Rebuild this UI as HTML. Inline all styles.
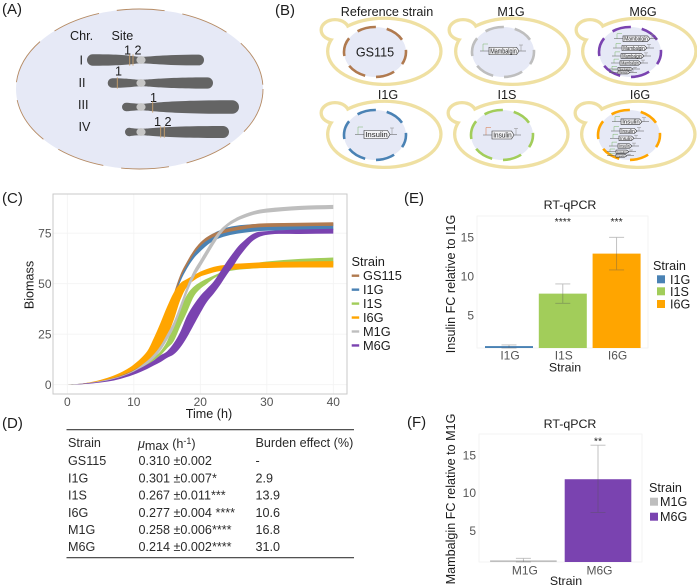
<!DOCTYPE html>
<html lang="en">
<head>
<meta charset="utf-8">
<title>Strain figure</title>
<style>
html,body{margin:0;padding:0;background:#fff;}
body{width:697px;height:586px;overflow:hidden;}
svg{display:block;font-family:"Liberation Sans",sans-serif;filter:blur(0.35px);}
svg text{fill:#1c1c1c;}
.tick{fill:#555 !important;font-size:12px;}
.lab{font-size:12.6px;}
.pl{font-size:15px;}
.td{font-size:12.6px;fill:#2a2a2a !important;}
</style>
</head>
<body>
<svg id="fig" xmlns="http://www.w3.org/2000/svg" width="697" height="586" viewBox="0 0 697 586">
  <rect width="697" height="586" fill="#fff"/>
  <text class="pl" x="2" y="14">(A)</text>
  <text class="pl" x="275" y="15">(B)</text>
  <text class="pl" x="2" y="203">(C)</text>
  <text class="pl" x="2" y="428">(D)</text>
  <text class="pl" x="404" y="203">(E)</text>
  <text class="pl" x="407" y="427">(F)</text>

  <g id="panelA">
    <ellipse cx="139.5" cy="89" rx="123.5" ry="80" fill="#e6e9f6"/>
    <ellipse cx="139.5" cy="89" rx="123.5" ry="80" fill="none" stroke="#b58a63" stroke-width="0.9" stroke-dasharray="48 18"/>
    <text class="lab" x="70" y="40">Chr.</text>
    <text class="lab" x="111.5" y="40">Site</text>
    <text class="lab" x="79.5" y="64.5">I</text>
    <text class="lab" x="78.5" y="87">II</text>
    <text class="lab" x="78" y="109">III</text>
    <text class="lab" x="78.5" y="131">IV</text>
    <text class="lab" x="124" y="54.5">1 2</text>
    <text class="lab" x="115" y="75.5">1</text>
    <text class="lab" x="150" y="102">1</text>
    <text class="lab" x="154" y="126">1 2</text>
  </g>

  <g id="panelB"></g>
  <g id="panelC"></g>

  <g id="panelD">
    <line x1="66.5" x2="354" y1="429.7" y2="429.7" stroke="#3a3a3a" stroke-width="1.2"/>
    <line x1="66.5" x2="354" y1="557.7" y2="557.7" stroke="#3a3a3a" stroke-width="1.2"/>
    <text class="td" x="68" y="447">Strain</text>
    <text class="td" x="138" y="448" font-style="italic" font-size="13">μ<tspan font-style="normal" dy="2">max</tspan><tspan font-style="normal" dy="-2"> (h</tspan><tspan font-style="normal" font-size="9" dy="-4">-1</tspan><tspan font-style="normal" dy="4">)</tspan></text>
    <text class="td" x="255.5" y="447">Burden effect (%)</text>
    <text class="td" x="68" y="465">GS115</text>
    <text class="td" x="138.5" y="465">0.310 ±0.002</text>
    <text class="td" x="255.5" y="465">-</text>
    <text class="td" x="68" y="482.3">I1G</text>
    <text class="td" x="138.5" y="482.3">0.301 ±0.007*</text>
    <text class="td" x="255.5" y="482.3">2.9</text>
    <text class="td" x="68" y="499.6">I1S</text>
    <text class="td" x="138.5" y="499.6">0.267 ±0.011***</text>
    <text class="td" x="255.5" y="499.6">13.9</text>
    <text class="td" x="68" y="516.8">I6G</text>
    <text class="td" x="138.5" y="516.8">0.277 ±0.004 ****</text>
    <text class="td" x="255.5" y="516.8">10.6</text>
    <text class="td" x="68" y="534">M1G</text>
    <text class="td" x="138.5" y="534">0.258 ±0.006****</text>
    <text class="td" x="255.5" y="534">16.8</text>
    <text class="td" x="68" y="551.2">M6G</text>
    <text class="td" x="138.5" y="551.2">0.214 ±0.002****</text>
    <text class="td" x="255.5" y="551.2">31.0</text>
  </g>

  <g id="panelE"></g>
  <g id="panelF"></g>
</svg>

<script>
// ---------- Panel C data ----------
const times = [0,2,4,6,8,10,12,13,14,15,16,17,18,19,20,21,22,23,24,25,26,28,30,35,40];
const strainNames = ['GS115','I1G','I1S','I6G','M1G','M6G'];
const drawOrder = ['I1G','GS115','I1S','I6G','M1G','M6G'];
const gs115Low  = [0,0.2,0.9,2,3.6,6.3,12.2,16.6,23.1,31.6,43.1,52.6,59.1,64.6,68.6,71.3,73.1,74.4,75.4,76.1,76.7,77.7,78.1,78.4,78.6];
const gs115High = [0,0.5,1.4,2.8,4.8,7.7,13.8,18.4,24.9,33.4,44.9,54.4,60.9,66.4,70.4,73.1,74.9,76.2,77.2,77.9,78.5,79.5,79.9,80.2,80.4];
const i1gLow    = [0,0.2,0.9,1.9,3.4,5.8,11,15,21,30,42,51,57.5,62.5,66,69,71.2,72.7,73.7,74.4,75,75.8,76.2,76.6,76.7];
const i1gHigh   = [0,0.5,1.3,2.6,4.6,7.4,13.6,18,24.5,33,44.5,54,60.5,66,70,73,75,76.5,77.8,78.5,79,79.5,79.8,80,80];
const i1sLow    = [0,0.3,1,2,3.2,5.5,9.5,12,14.5,18,21.5,29,36,43.5,47.5,50,52.5,54.5,56,56.6,57,57.5,58,58.7,59];
const i1sHigh   = [0,0.4,1.2,2.3,3.8,6.2,11,13.5,16.5,21.5,29.5,37.3,44.5,48.5,50.8,52.5,54,55.5,56.7,57.5,58.2,60,61,62.3,63];
const i6gLow    = [0,0.4,1.2,2.6,4.5,7.3,11.4,14.5,18.5,24,32,42,48.5,51.5,53.5,54.6,55.6,56.3,56.8,57,57.2,57.6,57.8,58,58];
const i6gHigh   = [0,0.5,1.6,3.4,6,10,16.5,23,30.5,38.5,45.5,50.2,52.3,54.2,56,57.3,58.3,59,59.4,59.8,60,60.4,60.7,61,61.2];
const m1gLow    = [0,0.2,0.8,1.8,3.3,5.8,10.2,13,16.8,22,27.9,36.3,45.3,52.8,58.3,63.8,69.3,74.3,77.9,80.1,81.8,84.1,85.2,86.5,87];
const m1gHigh   = [0,0.5,1.3,2.5,4.2,7,11.8,15,19.2,25,31.1,39.7,48.7,56.2,61.7,67.2,72.3,76.7,79.7,81.9,83.6,85.9,87.2,88.5,89];
const m6gLow    = [0,0.2,0.7,1.5,2.9,5,7.8,9.5,11.2,13.3,15,18.5,23.5,29.5,35.5,41,45,49.5,54.5,59,64,71.5,74.2,74.6,74.8];
const m6gHigh   = [0,0.4,1.1,2.1,3.8,6.5,10,12,14.5,16.5,20.5,26.2,34,39.5,44,47.5,51,56,61,65.5,69.5,74.8,76,76.8,77.2];
const xTickLabels = [0,10,20,30,40];
const yTickLabels = [0,25,50,75];
// ---------- Panel E data ----------
const insulinStrains = ['I1G','I1S','I6G'];
const insulinMeans = [1.0,7.75,12.9];
const insulinErrLow = [0.75,6.5,10.8];
const insulinErrHigh = [1.15,9.0,15.0];
const insulinStars = ['','****','***'];
const insulinTicks = [5,10,15];
// ---------- Panel F data ----------
const mambalginStrains = ['M1G','M6G'];
const mambalginMeans = [1.08,11.8];
const mambalginErrLow = [0.87,7.4];
const mambalginErrHigh = [1.35,16.3];
const mambalginStars = ['','**'];
const mambalginTicks = [5,10,15];

const strainColor = {GS115:'#b07a4f',I1G:'#4a82b4',I1S:'#a2cd5a',I6G:'#ffa500',M1G:'#bebebe',M6G:'#7a43b0'};
const bands = {
  GS115:[gs115Low,gs115High], I1G:[i1gLow,i1gHigh], I1S:[i1sLow,i1sHigh],
  I6G:[i6gLow,i6gHigh], M1G:[m1gLow,m1gHigh], M6G:[m6gLow,m6gHigh]
};
const NS='http://www.w3.org/2000/svg';
function mk(parent,tag,attrs,txt){
  const e=document.createElementNS(NS,tag);
  for(const k in attrs) e.setAttribute(k,attrs[k]);
  if(txt!==undefined) e.textContent=txt;
  parent.appendChild(e);
  return e;
}
function spline(pts,move){
  let d=(move?'M':'L')+pts[0][0].toFixed(2)+' '+pts[0][1].toFixed(2);
  for(let i=0;i<pts.length-1;i++){
    const p0=pts[Math.max(0,i-1)],p1=pts[i],p2=pts[i+1],p3=pts[Math.min(pts.length-1,i+2)];
    const dx=p2[0]-p1[0];
    const m1=(p2[1]-p0[1])/((p2[0]-p0[0])||1);
    const m2=(p3[1]-p1[1])/((p3[0]-p1[0])||1);
    d+=' C'+(p1[0]+dx/3).toFixed(2)+' '+(p1[1]+m1*dx/3).toFixed(2)+' '+
      (p2[0]-dx/3).toFixed(2)+' '+(p2[1]-m2*dx/3).toFixed(2)+' '+
      p2[0].toFixed(2)+' '+p2[1].toFixed(2);
  }
  return d;
}

// ---------- Panel A ----------
(function(){
  const g=document.getElementById('panelA');
  const chroms=[
    {n:'i',a:87,b:204,y:60,hl:5.7,hr:5.4,c:141,s:[129.7,133]},
    {n:'ii',a:107.7,b:213,y:83,hl:4.8,hr:5.6,c:141,s:[117.3]},
    {n:'iii',a:122,b:239,y:107,hl:4.2,hr:6.8,c:141,s:[152.7]},
    {n:'iv',a:125,b:229,y:132,hl:4.2,hr:6,c:141,s:[160.7,164.3]}
  ];
  chroms.forEach(function(c){
    const w=3.2;
    const d='M'+(c.a+c.hl)+' '+(c.y-c.hl)+
      ' C'+(c.c-12)+' '+(c.y-c.hl)+' '+(c.c-6)+' '+(c.y-w)+' '+c.c+' '+(c.y-w)+
      ' C'+(c.c+8)+' '+(c.y-w)+' '+(c.c+22)+' '+(c.y-c.hr)+' '+(c.b-c.hr)+' '+(c.y-c.hr)+
      ' A'+c.hr+' '+c.hr+' 0 0 1 '+(c.b-c.hr)+' '+(c.y+c.hr)+
      ' C'+(c.c+22)+' '+(c.y+c.hr)+' '+(c.c+8)+' '+(c.y+w)+' '+c.c+' '+(c.y+w)+
      ' C'+(c.c-6)+' '+(c.y+w)+' '+(c.c-12)+' '+(c.y+c.hl)+' '+(c.a+c.hl)+' '+(c.y+c.hl)+
      ' A'+c.hl+' '+c.hl+' 0 0 1 '+(c.a+c.hl)+' '+(c.y-c.hl)+'Z';
    const body=mk(g,'path',{d:d,fill:'#646464'});
    
    
    const cen=mk(g,'ellipse',{cx:c.c,cy:c.y,rx:4.6,ry:3.9,fill:'#c6c6c6'});
    
    
    c.s.forEach(function(x){
      const site=mk(g,'line',{x1:x,x2:x,y1:c.y-5.6,y2:c.y+5.6,stroke:'#c9a06c','stroke-width':0.9});
      
      
    });
  });
})();

// ---------- Panel B ----------
(function(){
  const g=document.getElementById('panelB');
  const cells=[
    {t:'Reference strain',nx:375,ny:52,lx:387,ly:16,c:'#b07a4f',key:'reference'},
    {t:'M1G',nx:503,ny:52,lx:511,ly:16,c:'#bebebe',key:'m1g',gene:'Mambalgin',rows:[[51,-14,16,7.5,7]],pc:'#7ab56a'},
    {t:'M6G',nx:630,ny:52,lx:643,ly:16,c:'#7a43b0',key:'m6g',gene:'Mambalgin',pc:'#7ab56a',
      rows:[[38.7,-7,20,5.5,5],[48,-8,17,5,5],[56,-9,14,4.6,5],[63,-10,11,4.4,4.6],[69,-12,3,3.2,3],[72.5,-12,0,3,3]]},
    {t:'I1G',nx:375,ny:135,lx:388,ly:99,c:'#4a82b4',key:'i1g',gene:'Insulin',rows:[[134.5,-11,15,8,7]],pc:'#7ab56a'},
    {t:'I1S',nx:502,ny:135,lx:507,ly:99,c:'#a2cd5a',key:'i1s',gene:'Insulin',rows:[[135,-10,12,8,7.5]],pc:'#d9713c'},
    {t:'I6G',nx:629,ny:135,lx:640,ly:99,c:'#ffa500',key:'i6g',gene:'Insulin',pc:'#7ab56a',
      rows:[[121.7,-8,13,5.5,5],[131,-9,8,5,5],[138.3,-10,5,4.6,4.6],[146,-11,3,4.4,4.4],[151.7,-13,0,3.2,3],[155.7,-13,-2,3,3]]}
  ];
  cells.forEach(function(c){
    const bx=c.nx+9.3, by=c.ny-0.7, ux=c.nx-40, uy=c.ny-22;
    const cell=mk(g,'g',{});
    
    
    const o1=mk(cell,'ellipse',{cx:bx,cy:by,rx:55,ry:31.4,fill:'#fff',stroke:'#efe0a2','stroke-width':6.6});
    
    
    const o2=mk(cell,'ellipse',{cx:ux,cy:uy,rx:12.2,ry:8.7,fill:'#fff',stroke:'#efe0a2','stroke-width':6.6});
    
    
    mk(cell,'ellipse',{cx:bx,cy:by,rx:55,ry:31.4,fill:'#fff'});
    mk(cell,'ellipse',{cx:ux,cy:uy,rx:12.2,ry:8.7,fill:'#fff'});
    const n=mk(cell,'ellipse',{cx:c.nx,cy:c.ny,rx:31,ry:25,fill:'#e6e9f6',stroke:c.c,'stroke-width':2.6,'stroke-dasharray':'19 11','stroke-dashoffset':'6'});
    
    
    const title=mk(cell,'text',{x:c.lx,y:c.ly,'text-anchor':'middle','font-size':12.6},c.t);
    
    
    if(!c.gene){
      const tt=mk(cell,'text',{x:c.nx,y:c.ny+4.5,'text-anchor':'middle','font-size':12.6},'GS115');
      
      
    } else {
      c.rows.forEach(function(r){
        const y=r[0],a=c.nx+r[1],b=c.nx+r[2],h=r[3],fs=r[4];
        mk(cell,'line',{x1:a-9,x2:b+7,y1:y,y2:y,stroke:'#555','stroke-width':0.5});
        mk(cell,'path',{d:'M'+(a-6)+' '+y+'V'+(y-h+0.5)+'H'+(a-1),fill:'none',stroke:c.pc,'stroke-width':0.5});
        mk(cell,'path',{d:'M'+(b+2)+' '+y+'V'+(y-h+1.5)+'M'+b+' '+(y-h+1.5)+'H'+(b+4),fill:'none',stroke:'#888','stroke-width':0.5});
        const box=mk(cell,'path',{d:'M'+a+' '+(y-h/2)+'H'+(b-2.5)+'L'+b+' '+y+'L'+(b-2.5)+' '+(y+h/2)+'H'+a+'Z',fill:'#f3f3f6',stroke:'#333','stroke-width':0.6});
        
        
        const tx=mk(cell,'text',{x:(a+b-1)/2,y:y+fs*0.36,'text-anchor':'middle','font-size':fs,textLength:(b-a-3.5),lengthAdjust:'spacingAndGlyphs'},c.gene);
        
        
      });
    }
  });
})();

// ---------- Panel C ----------
(function(){
  const g=document.getElementById('panelC');
  const X=function(t){return 67.3+t*6.65;};
  const Y=function(v){return 384.7-v*2.02;};
  const L=53,R=347,T=194,B=394;
  xTickLabels.forEach(function(t,i){
    const gl=mk(g,'line',{x1:X(t),x2:X(t),y1:T,y2:B,stroke:'#f3f3f3','stroke-width':0.8});
    
    
    const tk=mk(g,'text',{x:X(t),y:406,'text-anchor':'middle','class':'tick'},String(t));
    
    
  });
  yTickLabels.forEach(function(v){
    const gl=mk(g,'line',{x1:L,x2:R,y1:Y(v),y2:Y(v),stroke:'#f3f3f3','stroke-width':0.8});
    
    
    const tk=mk(g,'text',{x:51.5,y:Y(v)+4.3,'text-anchor':'end','class':'tick'},String(v));
    
    
  });
  const frame=mk(g,'rect',{x:L,y:T,width:R-L,height:B-T,fill:'none',stroke:'#c9c9c9','stroke-width':1});
  
  
  drawOrder.forEach(function(name){
    const lo=bands[name][0],hi=bands[name][1];
    const top=times.map(function(t,i){return [X(t),Y(hi[i])];});
    const bot=times.map(function(t,i){return [X(t),Y(lo[i])];}).reverse();
    const ribbon=mk(g,'path',{d:spline(top,true)+' '+spline(bot,false)+'Z',fill:strainColor[name]});
    
    
  });
  const xt=mk(g,'text',{x:209,y:418,'text-anchor':'middle','font-size':12.6},'Time (h)');
  
  
  const yt=mk(g,'text',{x:33.5,y:285,'text-anchor':'middle','font-size':12.6,transform:'rotate(-90 33.5 285)'},'Biomass');
  
  
  const lt=mk(g,'text',{x:351.5,y:266,'font-size':12.8},'Strain');
  
  
  strainNames.forEach(function(name,i){
    const y=275.7+i*13.95;
    const key=mk(g,'line',{x1:351.7,x2:359.2,y1:y,y2:y,stroke:strainColor[name],'stroke-width':2.4});
    
    
    const tx=mk(g,'text',{x:363,y:y+4.5,'font-size':12.8},name);
    
    
  });
})();

// ---------- Bar charts ----------
function barChart(cfg){
  const g=document.getElementById(cfg.id);
  const Y=function(v){return cfg.y0-(v-cfg.v0)*cfg.k;};
  const frame=mk(g,'rect',{x:cfg.L,y:cfg.T,width:cfg.R-cfg.L,height:cfg.B-cfg.T,fill:'#fff',stroke:'#f1f1f1','stroke-width':0.8});
  
  
  cfg.ticks.forEach(function(v){
    const tk=mk(g,'text',{x:cfg.tickX,y:Y(v)+4.3,'text-anchor':'end','class':'tick'},String(v));
    
    
  });
  cfg.names.forEach(function(name,i){
    const cx=cfg.first+i*cfg.step;
    const top=Y(cfg.means[i]);
    const bar=mk(g,'rect',{x:cx-cfg.w/2,y:top,width:cfg.w,height:cfg.B-top,fill:strainColor[name]});
    
    
    const hi=Y(cfg.hi[i]),lo=Y(cfg.lo[i]);
    const cap=cfg.cap;
    const err=mk(g,'path',{d:'M'+(cx-cap)+' '+hi+'H'+(cx+cap)+'M'+cx+' '+hi+'V'+lo+'M'+(cx-cap)+' '+lo+'H'+(cx+cap),fill:'none',stroke:'#555','stroke-opacity':0.4,'stroke-width':0.9});
    
    
    if(cfg.stars[i]){
      const st=mk(g,'text',{x:cx+cfg.starDx,y:cfg.starY,'text-anchor':'middle','font-size':10.5},cfg.stars[i]);
      
      
    }
    const xl=mk(g,'text',{x:cx+cfg.labDx,y:cfg.labY,'text-anchor':'middle','class':'tick'},name);
    
    
    const ky=cfg.keyYs[i];
    const key=mk(g,'rect',{x:cfg.keyX,y:ky-4,width:8,height:8,fill:strainColor[name]});
    
    
    const lt=mk(g,'text',{x:cfg.keyLabX,y:ky+4.5,'font-size':12.6},name);
    
    
  });
  const t=mk(g,'text',{x:570,y:cfg.titleY,'text-anchor':'middle','font-size':12.4},'RT-qPCR');
  
  
  const xa=mk(g,'text',{x:cfg.xtX,y:cfg.xtY,'text-anchor':'middle','font-size':12.4},'Strain');
  
  
  const ya=mk(g,'text',{x:455,y:cfg.ylY,'text-anchor':'middle','font-size':12.6,transform:'rotate(-90 455 '+cfg.ylY+')'},cfg.yl);
  
  
  const lg=mk(g,'text',{x:cfg.legX,y:cfg.legY,'font-size':12.6},'Strain');
  
  
}
barChart({id:'panelE',names:insulinStrains,means:insulinMeans,lo:insulinErrLow,hi:insulinErrHigh,stars:insulinStars,ticks:insulinTicks,
  L:477,R:648,T:216,B:348,y0:315,v0:5,k:7.77,tickX:474,first:509,step:53.8,w:48,cap:7.5,starDx:0,starY:225,labDx:1,labY:359.5,
  keyX:657,keyYs:[279.3,291.3,304],keyLabX:670,legX:653,legY:270,titleY:209,xtX:565,xtY:371.5,yl:'Insulin FC relative to I1G',ylY:284});
barChart({id:'panelF',names:mambalginStrains,means:mambalginMeans,lo:mambalginErrLow,hi:mambalginErrHigh,stars:mambalginStars,ticks:mambalginTicks,
  L:479,R:642,T:434,B:562,y0:530.7,v0:5,k:7.57,tickX:476,first:523.4,step:74.6,w:66.6,cap:7.5,starDx:0,starY:444.5,labDx:1.5,labY:574.5,
  keyX:650,keyYs:[501.7,516.7],keyLabX:660,legX:649,legY:492,titleY:428,xtX:566,xtY:585,yl:'Mambalgin FC relative to M1G',ylY:499});
</script>
</body>
</html>
